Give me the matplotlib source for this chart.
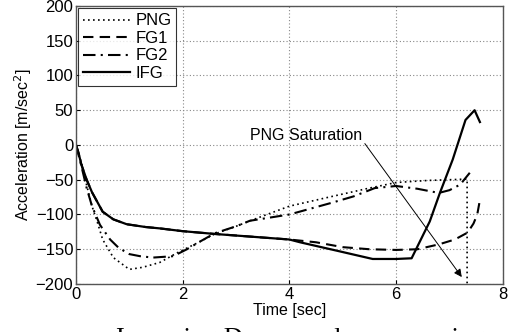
import matplotlib
matplotlib.use("Agg")
import matplotlib.pyplot as plt

# Data
png_t = [0.0, 0.1, 0.2, 0.3, 0.4, 0.5, 0.7, 1.0, 1.25, 1.57, 1.9, 2.3, 2.6, 3.0, 3.3, 4.0, 4.8, 5.5, 6.0, 6.6, 7.0, 7.33, 7.33]
png_a = [0, -25, -58, -88, -111, -136, -162, -179, -176, -169, -155, -140, -128, -117, -108, -88, -74, -62, -54, -51, -50, -49, -200]

fg1_t = [0.0, 0.05, 0.1, 0.2, 0.3, 0.5, 0.7, 0.95, 1.3, 1.57, 2.0, 2.6, 3.3, 4.0, 4.5, 5.0, 5.5, 6.0, 6.4, 6.8, 7.1, 7.34, 7.45, 7.52, 7.57]
fg1_a = [0, -12, -28, -50, -68, -96, -107, -114, -118, -120, -124, -128, -132, -136, -140, -147, -150, -151, -150, -143, -136, -126, -113, -100, -79]

fg2_t = [0.0, 0.1, 0.2, 0.3, 0.45, 0.64, 0.8, 1.0, 1.2, 1.44, 1.82, 2.08, 2.3, 2.6, 3.0, 3.26, 4.0, 4.8, 5.2, 5.6, 6.0, 6.4, 6.8, 7.0, 7.2, 7.38]
fg2_a = [0, -30, -62, -88, -115, -136, -148, -157, -160, -162, -160, -150, -140, -127, -117, -109, -100, -83, -74, -62, -59, -63, -69, -65, -57, -40]

ifg_t = [0.0, 0.05, 0.1, 0.2, 0.3, 0.5, 0.7, 0.95, 1.3, 1.57, 2.0, 2.6, 3.3, 4.0, 4.2, 4.94, 5.56, 6.0, 6.29, 6.63, 6.82, 7.06, 7.3, 7.47, 7.57]
ifg_a = [0, -12, -28, -50, -68, -96, -107, -114, -118, -120, -124, -128, -132, -136, -140, -153, -164, -164, -163, -110, -69, -21, 36, 50, 33]

x_ticks = [0, 2, 4, 6, 8]
y_ticks = [-200, -150, -100, -50, 0, 50, 100, 150, 200]

plt.rcParams['font.family'] = ['Liberation Sans', 'DejaVu Sans']

fig = plt.figure(figsize=(5.1, 3.32), dpi=100)
ax = fig.add_axes([0.149, 0.1446, 0.837, 0.8374])

ax.plot(png_t, png_a, color='black', linestyle=(0, (1, 2)), linewidth=1.2, label='PNG')
ax.plot(fg1_t, fg1_a, color='black', linestyle=(0, (5, 3)), linewidth=1.5, label='FG1')
ax.plot(fg2_t, fg2_a, color='black', linestyle=(0, (6, 2.5, 1, 2.5)), linewidth=1.5, label='FG2')
ax.plot(ifg_t, ifg_a, color='black', linestyle='-', linewidth=1.6, label='IFG')

ax.set_xlim(0, 8)
ax.set_ylim(-200, 200)
ax.set_xticks(x_ticks)
ax.set_yticks(y_ticks)
ax.tick_params(direction='in', labelsize=12, length=3, colors='black', pad=2)
for sp in ax.spines.values():
    sp.set_color('#555555')
    sp.set_linewidth(1.0)
ax.grid(True, color='#888888', linestyle=(0, (1, 2)), linewidth=0.8)

ax.set_xlabel('Time [sec]', fontsize=11.5, labelpad=1)
ax.set_ylabel('Acceleration [m/sec$^2$]', fontsize=11.5, labelpad=1)

leg = ax.legend(loc='upper left', fontsize=12, frameon=True, fancybox=False,
                edgecolor='black', borderpad=0.3, labelspacing=0.15,
                handlelength=2.8, handletextpad=0.3, borderaxespad=0.15)
leg.get_frame().set_linewidth(0.8)

ax.annotate('PNG Saturation', xy=(7.23, -190), xytext=(3.26, 14),
            fontsize=11.5, ha='left', va='center',
            arrowprops=dict(arrowstyle='-|>', color='black', linewidth=0.7,
                            shrinkA=0, shrinkB=0, relpos=(1.0, 0.2)))

fig.text(0.59, 0.012, 'Incoming Downward maneuvering', fontsize=19,
         family=['Liberation Serif', 'DejaVu Serif'], ha='center', va='top')

fig.savefig('out.png', dpi=100)
